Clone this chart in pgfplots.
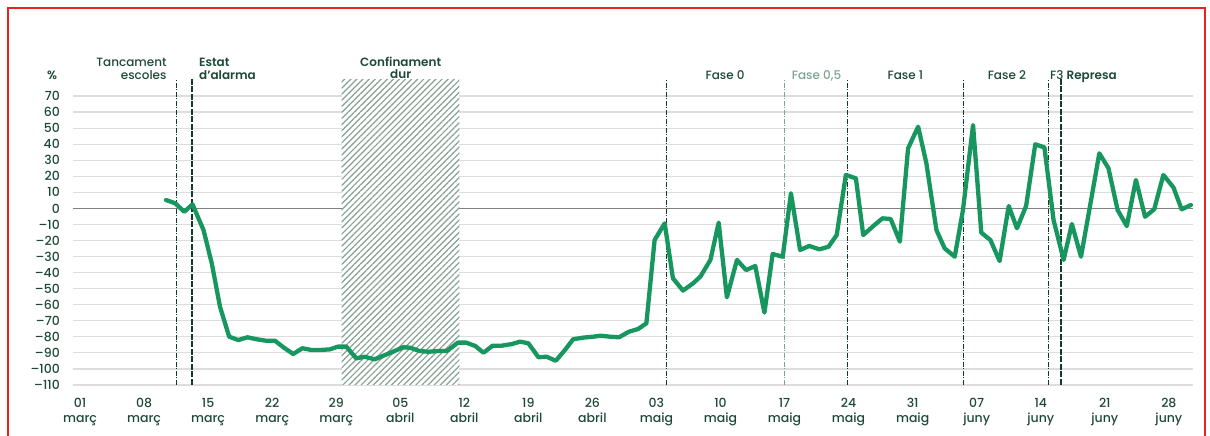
\documentclass[border=0pt]{standalone}
\usepackage{fontspec}
\setmainfont{Poppins}[UprightFont={* Medium}, BoldFont={* SemiBold}]
\usepackage{pgfplots}
\pgfplotsset{compat=1.18}
\usetikzlibrary{patterns.meta}

\definecolor{txt}{HTML}{1E4A35}
\definecolor{lineg}{HTML}{17975F}
\definecolor{vdark}{HTML}{0E3D27}
\definecolor{vlight}{HTML}{7FA292}
\definecolor{hatchc}{HTML}{86A294}
\definecolor{gridc}{HTML}{DDDDDD}
\definecolor{framec}{HTML}{E52421}
\newcommand\hdr{\fontsize{12}{12.3}\selectfont}

% % change, x = days since 1 March
\pgfplotstableread{
x y
9.4 5.2
10.4 3.2
11.4 -2.1
12.3 2.5
13.5 -13.5
14.4 -34.2
15.3 -61.2
16.3 -79.9
17.3 -82.0
18.3 -80.3
19.3 -81.5
20.3 -82.4
21.3 -82.4
22.3 -86.8
23.3 -90.7
24.3 -87.1
25.3 -88.2
26.3 -88.2
27.3 -87.8
28.2 -86.1
29.1 -86.1
30.2 -93.4
31.1 -92.4
32.2 -94.0
33.1 -91.9
34.2 -89.3
35.3 -86.5
36.1 -86.8
37.1 -88.8
38.1 -89.3
39.2 -88.8
40.1 -88.8
41.3 -83.6
42.2 -83.6
43.2 -85.7
44.1 -89.9
45.1 -85.5
46.1 -85.5
47.2 -84.5
48.1 -83.0
49.0 -84.0
50.1 -92.7
51.0 -92.4
52.0 -94.9
53.0 -88.2
53.9 -81.5
55.0 -80.5
56.1 -79.9
56.9 -79.3
57.9 -79.9
58.9 -80.3
60.0 -76.8
61.0 -75.1
61.9 -71.6
62.8 -19.7
63.9 -9.3
64.8 -43.5
65.9 -51.2
67.0 -46.7
67.8 -42.5
68.9 -32.1
69.8 -8.9
70.7 -55.4
71.8 -32.1
72.8 -38.4
73.8 -35.9
74.8 -64.9
75.7 -28.4
76.8 -30.1
77.7 9.4
78.7 -25.9
79.7 -23.4
80.8 -25.5
81.8 -23.9
82.7 -16.6
83.7 20.8
84.8 18.7
85.6 -16.6
86.7 -11.0
87.7 -6.2
88.6 -6.6
89.6 -20.7
90.5 37.4
91.6 50.9
92.5 28.1
93.6 -13.5
94.5 -24.9
95.6 -30.1
96.5 -1.0
97.6 51.9
98.5 -15.1
99.5 -19.7
100.5 -32.8
101.5 1.5
102.4 -12.4
103.4 1.5
104.4 39.9
105.4 38.0
106.4 -7.2
107.5 -32.1
108.4 -9.7
109.4 -30.1
110.5 5.2
111.4 34.3
112.4 25.0
113.4 -1.0
114.4 -11.0
115.4 17.7
116.4 -5.2
117.4 -0.6
118.4 20.8
119.5 13.1
120.4 -0.6
121.4 2.1
}\mobility

\begin{document}
\begin{tikzpicture}
\path[use as bounding box] (0pt,0pt) rectangle (1210pt,436pt);
\draw[framec, line width=2pt] (8pt,0pt) -- (8pt,428pt) -- (1205pt,428pt) -- (1205pt,0pt);
\begin{axis}[
  at={(73pt,51pt)}, anchor=south west,
  scale only axis, width=1120pt, height=289pt,
  xmin=-0.765, xmax=121.64, ymin=-110, ymax=70,
  clip=false,
  axis line style={draw=none},
  major tick style={draw=none},
  ymajorgrids, grid style={gridc, line width=1.2pt},
  ytick={-110,-100,...,70},
  yticklabels={--110,--100,--90,--80,--70,--60,--50,--40,--30,--20,--10,0,10,20,30,40,50,60,70},
  xtick={0,7,...,119},
  xticklabels={{01\\març},{08\\març},{15\\març},{22\\març},{29\\març},
    {05\\abril},{12\\abril},{19\\abril},{26\\abril},
    {03\\maig},{10\\maig},{17\\maig},{24\\maig},{31\\maig},
    {07\\juny},{14\\juny},{21\\juny},{28\\juny}},
  tick label style={font=\fontsize{12.5}{15}\selectfont, text=txt},
  yticklabel style={inner sep=0pt, xshift=-13pt},
  xticklabel style={align=center, inner sep=0pt, yshift=-13pt},
]
% zero line
\draw[black!50, line width=1pt] (axis cs:-0.765,0) -- (axis cs:121.64,0);
% Confinament dur
\fill[white] (axis cs:28.6,-110) rectangle (axis cs:41.45,80.4);
\fill[pattern={Lines[angle=45,distance=4.3pt,line width=1.2pt]}, pattern color=hatchc]
  (axis cs:28.6,-110) rectangle (axis cs:41.45,80.4);
% phase markers
\draw[vdark, line width=1pt, dash pattern=on 5pt off 1.5pt on 1pt off 1.5pt] (axis cs:10.6,-110) -- (axis cs:10.6,80.4);
\draw[vdark, line width=2.2pt, dash pattern=on 6pt off 1.5pt] (axis cs:12.27,-110) -- (axis cs:12.27,80.4);
\draw[vdark, line width=1pt, dash pattern=on 5pt off 1.5pt on 1pt off 1.5pt] (axis cs:64.1,-110) -- (axis cs:64.1,80.4);
\draw[vlight, line width=1pt, dash pattern=on 5pt off 1.5pt on 1pt off 1.5pt] (axis cs:77.0,-110) -- (axis cs:77.0,80.4);
\draw[vdark, line width=1pt, dash pattern=on 5pt off 1.5pt on 1pt off 1.5pt] (axis cs:83.9,-110) -- (axis cs:83.9,80.4);
\draw[vdark, line width=1pt, dash pattern=on 5pt off 1.5pt on 1pt off 1.5pt] (axis cs:96.6,-110) -- (axis cs:96.6,80.4);
\draw[vdark, line width=1pt, dash pattern=on 5pt off 1.5pt on 1pt off 1.5pt] (axis cs:105.9,-110) -- (axis cs:105.9,80.4);
\draw[vdark, line width=2.2pt, dash pattern=on 6pt off 1.5pt] (axis cs:107.2,-110) -- (axis cs:107.2,80.4);
% labels
\node[anchor=base, inner sep=0pt, font=\hdr\bfseries, text=txt] at (axis cs:-3.06,80) {\%};
\node[anchor=south east, align=right, inner sep=0pt, font=\hdr, text=txt] at (axis cs:9.48,80.3) {Tancament\\escoles};
\node[anchor=south west, align=left, inner sep=0pt, font=\hdr\bfseries, text=txt] at (axis cs:13.0,80.3) {Estat\\d'alarma};
\node[anchor=south, align=center, inner sep=0pt, font=\hdr\bfseries, text=txt] at (axis cs:35.05,80.6) {Confinament\\dur};
\node[anchor=base, inner sep=0pt, font=\hdr, text=txt] at (axis cs:70.5,80) {Fase 0};
\node[anchor=base, inner sep=0pt, font=\hdr, text=vlight] at (axis cs:80.5,80) {Fase 0,5};
\node[anchor=base, inner sep=0pt, font=\hdr, text=txt] at (axis cs:90.2,80) {Fase 1};
\node[anchor=base, inner sep=0pt, font=\hdr, text=txt] at (axis cs:101.3,80) {Fase 2};
\node[anchor=base west, inner sep=0pt, font=\hdr, text=txt] at (axis cs:106.0,80) {F3};
\node[anchor=base west, inner sep=0pt, font=\hdr\bfseries, text=txt] at (axis cs:107.8,80) {Represa};
% data
\addplot[lineg, line width=4.3pt, line join=round, line cap=round] table[x=x, y=y] {\mobility};
\end{axis}
\end{tikzpicture}
\end{document}
